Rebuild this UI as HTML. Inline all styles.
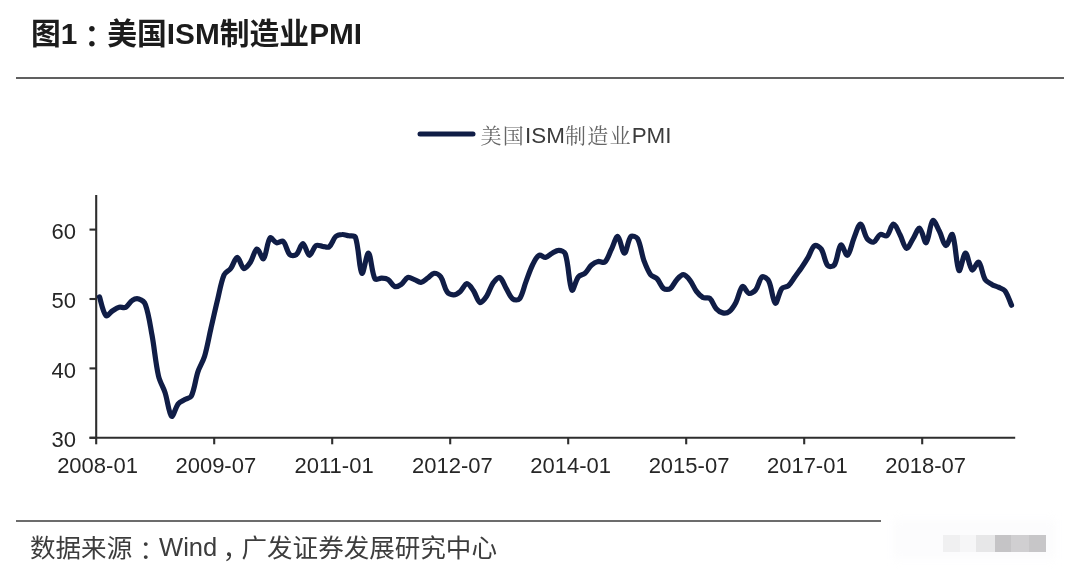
<!DOCTYPE html>
<html lang="zh-CN">
<head>
<meta charset="utf-8">
<title>图1：美国ISM制造业PMI</title>
<style>
html,body{margin:0;padding:0;background:#fff;}
body{width:1080px;height:575px;position:relative;overflow:hidden;font-family:"Liberation Sans","Noto Sans CJK SC",sans-serif;}
#title{position:absolute;left:31px;top:12px;margin:0;font-size:29.8px;line-height:38px;font-weight:bold;color:#1c1c1c;white-space:nowrap;letter-spacing:0;}
#rule1{position:absolute;left:16px;top:77.2px;width:1048px;height:2.2px;background:#606060;}
#rule2{position:absolute;left:16px;top:519.9px;width:865.4px;height:2.2px;background:#6c6c6c;}
#src{position:absolute;left:30px;top:528px;margin:0;font-size:25.55px;line-height:36px;color:#3d3d3d;white-space:nowrap;}
.p{font-family:"Noto Sans CJK TC","Noto Sans CJK SC",sans-serif;position:relative;}
.w{position:relative;left:1.3px;top:-1px;}
#chart{position:absolute;left:0;top:0;}
#title,#src,#chart,#rule1,#rule2{filter:blur(0.45px);}
#chart text{font-family:"Liberation Sans","Noto Sans CJK SC",sans-serif;}
#chart text.lg{font-family:"Liberation Sans","Noto Serif CJK SC",serif;}
#chart tspan.c{font-size:21px;letter-spacing:1.25px;fill:#666;}
#wm{position:absolute;left:942.5px;top:535px;width:103.5px;height:17px;display:flex;filter:blur(0.6px);}
#wm i{display:block;height:100%;}
#wm2{position:absolute;left:893px;top:520px;width:163px;height:39px;background:#fcfcfd;filter:blur(4px);}
</style>
</head>
<body>
<h1 id="title">图1<span class="p" lang="zh-TW" style="top:3px;left:-0.5px">：</span>美国ISM制造业PMI</h1>
<div id="rule1"></div>
<svg id="chart" width="1080" height="575" viewBox="0 0 1080 575">
<g stroke="#2e2e2e" stroke-width="2.1" fill="none">
<path d="M96.2,195 V444.3"/>
<path d="M89.5,437.8 H1015.2"/>
<path d="M214.2,437.8 V444.3"/>
<path d="M332.2,437.8 V444.3"/>
<path d="M450.2,437.8 V444.3"/>
<path d="M568.2,437.8 V444.3"/>
<path d="M686.2,437.8 V444.3"/>
<path d="M804.2,437.8 V444.3"/>
<path d="M922.2,437.8 V444.3"/>
<path d="M89.5,229.6 H96.2"/>
<path d="M89.5,299.0 H96.2"/>
<path d="M89.5,368.4 H96.2"/>
<path d="M89.5,437.8 H96.2"/>
</g>
<g class="ax" font-size="22" fill="#262626">
<text x="76" y="238.8" text-anchor="end">60</text>
<text x="76" y="308.2" text-anchor="end">50</text>
<text x="76" y="377.6" text-anchor="end">40</text>
<text x="76" y="447.0" text-anchor="end">30</text>
<text x="97.5" y="472.8" text-anchor="middle">2008-01</text>
<text x="215.8" y="472.8" text-anchor="middle">2009-07</text>
<text x="334.1" y="472.8" text-anchor="middle">2011-01</text>
<text x="452.4" y="472.8" text-anchor="middle">2012-07</text>
<text x="570.7" y="472.8" text-anchor="middle">2014-01</text>
<text x="689.0" y="472.8" text-anchor="middle">2015-07</text>
<text x="807.3" y="472.8" text-anchor="middle">2017-01</text>
<text x="925.6" y="472.8" text-anchor="middle">2018-07</text>
</g>
<path d="M99.5,296.9 C100.6,300.0 102.9,312.4 106.0,315.7 C107.3,317.0 110.3,312.3 112.6,310.8 C114.7,309.5 116.8,307.9 119.2,307.3 C121.2,306.8 123.9,308.3 125.7,307.3 C128.3,306.0 129.7,302.0 132.3,300.4 C134.1,299.2 136.9,298.4 138.8,299.0 C141.3,299.8 144.5,302.0 145.4,304.6 C148.8,314.0 150.1,324.9 152.0,335.1 C154.5,348.7 155.5,362.6 158.5,376.0 C159.8,381.8 163.2,387.0 165.1,392.7 C167.6,400.4 168.9,413.9 171.6,416.3 C173.2,417.6 175.4,407.4 178.2,403.8 C179.8,401.8 182.5,400.9 184.8,399.6 C186.9,398.4 190.3,398.3 191.3,396.2 C194.7,389.0 195.3,379.8 197.9,371.9 C199.6,366.6 202.9,361.9 204.5,356.6 C207.2,347.3 208.8,337.6 211.0,328.1 C213.2,318.7 215.3,309.1 217.6,299.7 C219.6,291.3 220.9,282.4 224.1,274.7 C225.3,272.0 228.9,270.9 230.7,268.5 C233.3,265.1 235.1,257.4 237.3,257.4 C239.4,257.4 241.3,267.5 243.8,268.5 C245.6,269.1 248.7,264.7 250.4,262.2 C253.1,258.2 254.5,249.7 256.9,249.0 C258.9,248.5 262.0,260.0 263.5,258.7 C266.4,256.3 266.9,241.8 270.1,237.9 C271.3,236.5 274.2,242.2 276.6,242.8 C278.6,243.3 281.8,240.2 283.2,241.4 C286.2,244.1 286.7,251.5 289.8,254.6 C291.1,255.9 294.8,255.8 296.3,254.6 C299.2,252.1 300.7,243.4 302.9,243.5 C305.1,243.6 307.1,254.9 309.4,255.3 C311.5,255.6 313.2,247.5 316.0,245.6 C317.6,244.5 320.4,246.0 322.6,246.3 C324.7,246.5 327.6,248.1 329.1,246.9 C332.0,244.8 332.9,239.2 335.7,236.5 C337.2,235.0 340.0,234.6 342.2,234.5 C344.4,234.3 346.6,235.4 348.8,235.8 C351.0,236.3 354.7,235.3 355.4,237.2 C359.1,247.8 359.1,269.9 361.9,273.3 C363.5,275.3 366.5,252.4 368.5,253.2 C370.9,254.2 371.5,272.2 375.0,278.9 C375.9,280.5 379.4,278.1 381.6,278.2 C383.8,278.3 386.4,278.4 388.2,279.6 C390.7,281.2 392.2,285.6 394.7,286.5 C396.6,287.2 399.5,285.7 401.3,284.4 C403.8,282.7 405.3,278.4 407.8,277.5 C409.7,276.8 412.3,278.8 414.4,279.6 C416.6,280.4 418.9,282.6 421.0,282.3 C423.3,282.1 425.4,279.6 427.5,278.2 C429.8,276.6 431.8,273.6 434.1,273.3 C436.2,273.1 439.3,274.9 440.7,276.8 C443.7,281.1 444.2,287.9 447.2,292.1 C448.5,293.9 451.6,294.9 453.8,294.8 C456.0,294.7 458.5,292.9 460.3,291.4 C462.9,289.2 464.7,283.9 466.9,283.7 C469.0,283.6 471.6,288.1 473.5,290.7 C476.0,294.3 477.4,301.4 480.0,302.5 C481.8,303.2 484.9,298.7 486.6,296.2 C489.3,292.2 490.4,287.0 493.1,283.0 C494.8,280.7 498.0,276.7 499.7,277.5 C502.3,278.6 504.0,284.9 506.3,288.6 C508.4,292.1 510.0,296.7 512.8,299.0 C514.3,300.2 518.2,300.5 519.4,299.0 C522.6,294.7 523.7,287.4 526.0,281.6 C528.1,276.1 529.9,270.3 532.5,265.0 C534.2,261.5 536.3,256.9 539.1,255.3 C540.7,254.3 543.6,257.7 545.6,257.4 C548.0,257.0 549.9,254.4 552.2,253.2 C554.3,252.1 556.6,250.3 558.8,250.4 C561.0,250.5 564.6,251.7 565.3,253.9 C569.0,264.9 568.8,284.5 571.9,290.0 C573.1,292.2 575.5,280.5 578.4,276.8 C579.9,274.9 583.2,274.9 585.0,273.3 C587.6,271.0 589.0,267.3 591.6,265.0 C593.4,263.4 595.8,262.0 598.1,261.5 C600.2,261.1 603.3,263.5 604.7,262.2 C607.7,259.5 609.1,253.9 611.2,249.7 C613.5,245.4 615.8,236.0 617.8,236.5 C620.2,237.2 622.2,253.2 624.4,253.2 C626.6,253.2 627.8,240.0 630.9,236.5 C632.1,235.2 636.5,236.8 637.5,238.6 C640.9,244.9 641.4,253.6 644.0,260.8 C645.8,265.6 647.7,270.7 650.6,274.7 C652.1,276.7 655.4,277.0 657.2,278.9 C659.8,281.7 660.9,286.5 663.7,288.6 C665.3,289.8 668.7,289.7 670.3,288.6 C673.0,286.7 674.3,282.2 676.9,279.6 C678.7,277.6 681.3,274.6 683.4,274.7 C685.7,274.8 688.2,278.0 690.0,280.3 C692.6,283.6 694.0,288.0 696.5,291.4 C698.3,293.8 700.6,296.3 703.1,297.6 C704.9,298.6 708.1,297.0 709.7,298.3 C712.5,300.7 713.5,305.7 716.2,308.7 C717.9,310.6 720.4,312.4 722.8,312.9 C724.8,313.3 727.7,312.8 729.3,311.5 C732.1,309.3 734.2,305.7 735.9,302.5 C738.6,297.4 739.7,288.4 742.5,286.5 C744.0,285.4 746.6,292.8 749.0,293.4 C750.9,294.0 754.1,291.8 755.6,290.0 C758.5,286.3 759.3,278.8 762.1,276.8 C763.7,275.8 767.6,278.7 768.7,281.0 C772.0,287.5 772.7,301.7 775.3,303.2 C777.1,304.2 778.8,292.6 781.8,288.6 C783.2,286.8 786.7,287.3 788.4,285.8 C791.1,283.4 792.8,279.8 795.0,276.8 C797.1,273.8 799.4,270.8 801.5,267.8 C803.8,264.4 806.0,260.9 808.1,257.4 C810.4,253.5 811.8,247.4 814.6,245.6 C816.2,244.6 819.9,247.1 821.2,249.0 C824.3,253.8 824.6,261.8 827.8,265.7 C828.9,267.1 833.3,266.6 834.3,265.0 C837.7,259.7 838.1,246.9 840.9,244.9 C842.5,243.7 845.7,256.2 847.4,255.3 C850.1,253.9 851.6,243.6 854.0,237.9 C856.0,233.2 858.4,223.9 860.6,224.0 C862.8,224.2 864.1,234.5 867.1,238.6 C868.5,240.5 871.8,242.7 873.7,242.1 C876.2,241.3 877.6,235.7 880.2,234.5 C882.0,233.6 885.4,237.0 886.8,235.8 C889.7,233.5 891.1,224.3 893.4,224.0 C895.5,223.8 898.0,230.9 899.9,234.5 C902.4,239.0 904.0,247.6 906.5,248.3 C908.4,248.9 910.9,241.9 913.1,238.6 C915.3,235.2 917.7,227.6 919.6,228.2 C922.1,229.0 924.4,243.8 926.2,242.8 C928.8,241.3 929.9,223.1 932.7,220.6 C934.3,219.2 937.4,227.4 939.3,231.0 C941.8,235.7 943.4,244.9 945.9,245.6 C947.8,246.1 951.3,232.3 952.4,234.5 C955.7,240.6 956.1,266.4 959.0,270.5 C960.5,272.6 963.3,253.3 965.5,253.2 C967.7,253.1 969.3,267.9 972.1,269.9 C973.7,270.9 977.1,261.1 978.7,262.2 C981.5,264.3 982.2,274.4 985.2,279.6 C986.6,281.8 989.5,283.1 991.8,284.4 C993.8,285.6 996.2,286.2 998.3,287.2 C1000.6,288.3 1003.5,288.8 1004.9,290.7 C1007.9,294.8 1010.4,302.8 1011.5,305.2" fill="none" stroke="#101d46" stroke-width="5.2" stroke-linejoin="round" stroke-linecap="round"/>
<path d="M420,134.1 H473" stroke="#101d46" stroke-width="5" stroke-linecap="round"/>
<text class="lg" x="480.6" y="142.5" font-size="22.4" fill="#3c3c3c"><tspan class="c">美国</tspan>ISM<tspan class="c">制造业</tspan><tspan>PMI</tspan></text>
</svg>
<div id="rule2"></div>
<p id="src">数据来源<span class="p" lang="zh-TW" style="top:2.5px;left:0.8px">：</span><span class="w">Wind</span><span class="p" lang="zh-TW" style="top:8.5px">，</span>广发证券发展研究中心</p>
<div id="wm2"></div>
<div id="wm"><i style="width:17.5px;background:#f0f0f1"></i><i style="width:16.3px;background:#f6f6f7"></i><i style="width:18.4px;background:#e7e7e8"></i><i style="width:16.3px;background:#c5c4c6"></i><i style="width:18.4px;background:#d0cfd1"></i><i style="width:16.6px;background:#c7c6c8"></i></div>
</body>
</html>
